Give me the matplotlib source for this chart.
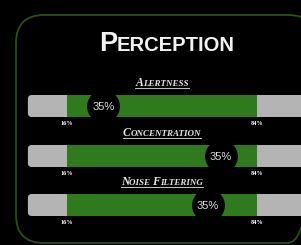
import matplotlib
matplotlib.use("Agg")
import matplotlib.pyplot as plt
from matplotlib.patches import FancyBboxPatch
from matplotlib.offsetbox import TextArea, HPacker, AnnotationBbox

# data
title = "Perception"
categories = ["Alertness", "Concentration", "Noise Filtering"]
low = [16, 16, 16]
high = [84, 84, 84]
marker_pos = [29, 71, 66.5]
marker_labels = ["35%", "35%", "35%"]

W, H = 301, 245
fig = plt.figure(figsize=(W / 100, H / 100), dpi=100)
fig.patch.set_facecolor("black")

# pixel-space axes for the frame and the text
ax = fig.add_axes([0, 0, 1, 1])
ax.set_xlim(0, W)
ax.set_ylim(H, 0)
ax.axis("off")

# value axes: 0..100 mapped across the track
x0, x1 = 22.3, 301.7
bx = fig.add_axes([x0 / W, 0, (x1 - x0) / W, 1])
bx.set_xlim(0, 100)
bx.set_ylim(H, 0)
bx.axis("off")
bx.patch.set_alpha(0)

frame = FancyBboxPatch((16, 15), 300, 228, boxstyle="round,pad=0,rounding_size=28",
                       fc="none", ec="#2a4f16", lw=1.3, clip_on=False)
ax.add_patch(frame)


def small_caps(words, big, small, **kw):
    parts = []
    for j, word in enumerate(words.split(" ")):
        tail = word[1:].upper() + (" " if j < len(words.split(" ")) - 1 else "")
        parts.append(TextArea(word[0].upper(), textprops=dict(fontsize=big, **kw)))
        parts.append(TextArea(tail, textprops=dict(fontsize=small, **kw)))
    return HPacker(children=parts, align="baseline", pad=0, sep=0)


tbox = small_caps(title, 19.5, 14.5, color="#f2f2f2", fontweight="bold", family="Liberation Sans")
ax.add_artist(AnnotationBbox(tbox, (167, 44), xycoords="data", frameon=False,
                             box_alignment=(0.5, 0.5), pad=0))

rows = [106, 156, 205]
bar_h = 22
gray = "#b4b4b4"
green = "#2e7a1c"

sub_boxes = []
for i, cat in enumerate(categories):
    y = rows[i]
    track = FancyBboxPatch((2, y - bar_h / 2), 103, bar_h,
                           boxstyle="round,pad=0,rounding_size=1.4",
                           mutation_aspect=2.794, fc=gray, ec="none")
    bx.add_patch(track)
    bx.barh(y, high[i] - low[i], left=low[i], height=bar_h, color=green, zorder=2)
    bx.scatter([marker_pos[i]], [y], s=560, color="black", zorder=3, linewidths=0)
    bx.text(marker_pos[i], y + 0.5, marker_labels[i], color="#dedede", fontsize=8,
            ha="center", va="center", zorder=4, family="Liberation Sans")
    bx.text(low[i], y + 17, f"{low[i]}%", color="white", fontsize=4.5, fontweight="bold",
            ha="center", va="center", family="Liberation Serif")
    bx.text(high[i], y + 17, f"{high[i]}%", color="white", fontsize=4.5, fontweight="bold",
            ha="center", va="center", family="Liberation Serif")

    sb = small_caps(cat, 8.5, 6.5, color="#e6e6e6", fontweight="bold", fontstyle="italic",
                    family="Liberation Serif")
    ab = AnnotationBbox(sb, (162, y - 23), xycoords="data", frameon=False,
                        box_alignment=(0.5, 0.5), pad=0)
    ax.add_artist(ab)
    sub_boxes.append(ab)

# underline the subtitles
fig.canvas.draw()
inv = ax.transData.inverted()
for ab in sub_boxes:
    bb = ab.get_window_extent()
    (xa, ya), (xb, yb) = inv.transform([(bb.x0, bb.y0), (bb.x1, bb.y1)])
    ax.plot([xa, xb], [ya - 1, ya - 1], color="#e6e6e6", lw=0.6)

fig.savefig("out.png", dpi=100, facecolor="black")
